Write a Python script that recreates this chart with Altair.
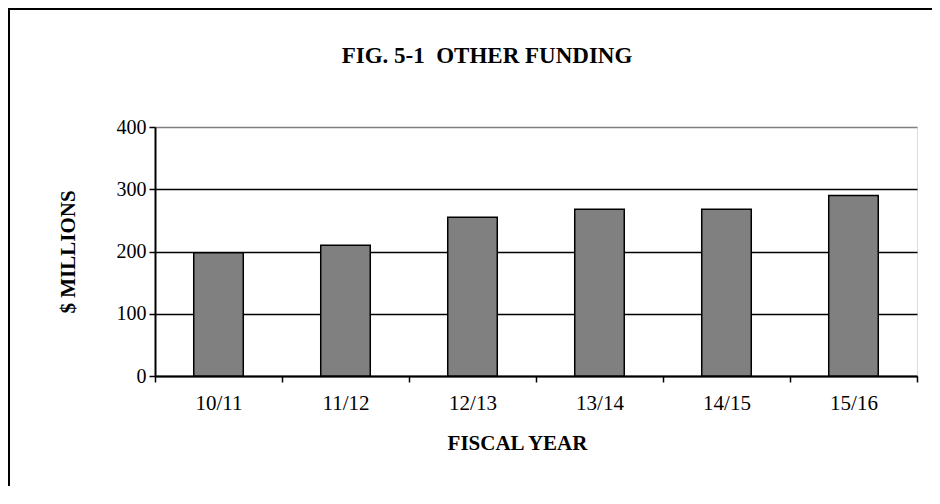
import altair as alt
import pandas as pd

years = ["10/11", "11/12", "12/13", "13/14", "14/15", "15/16"]
values = [198, 210, 255, 268, 268, 290]
y_ticks = [0, 100, 200, 300, 400]

df = pd.DataFrame({"year": years, "value": values})

FONT = "Liberation Serif"

frame = alt.Chart(pd.DataFrame({"a": [0]})).mark_rect(
    fill=None, stroke="black", strokeWidth=2, clip=False
).encode(
    x=alt.value(-146), y=alt.value(-118), x2=alt.value(2000), y2=alt.value(2000)
)

bars = alt.Chart(df).mark_bar(
    color="#808080", stroke="black", strokeWidth=1.5, width={"band": 0.39}
).encode(
    x=alt.X("year:N", sort=years,
            scale=alt.Scale(paddingInner=0, paddingOuter=0),
            axis=alt.Axis(title="FISCAL YEAR", labelAngle=0, tickBand="extent",
                          labelFont=FONT, labelFontSize=21, labelColor="black",
                          labelPadding=10,
                          titleFont=FONT, titleFontSize=21, titleFontWeight="bold",
                          titleColor="black", titlePadding=19, titleX=362,
                          domainColor="black", domainWidth=2,
                          tickColor="black", tickWidth=1.5, tickSize=6)),
    y=alt.Y("value:Q", scale=alt.Scale(domain=[0, 400], nice=False),
            axis=alt.Axis(title="$ MILLIONS", values=y_ticks,
                          labelFont=FONT, labelFontSize=20, labelColor="black",
                          labelPadding=3,
                          titleFont=FONT, titleFontSize=21, titleFontWeight="bold",
                          titleColor="black", titlePadding=38,
                          domainColor="black", domainWidth=2,
                          tickColor="black", tickWidth=1.5, tickSize=6,
                          grid=True,
                          gridColor=alt.condition("datum.value == 400",
                                                  alt.value("#808080"),
                                                  alt.value("black")),
                          gridWidth=1.5, gridOpacity=1))
)

chart = alt.layer(frame, bars).properties(
    width=762, height=249,
    title=alt.TitleParams("FIG. 5-1\u00a0 OTHER FUNDING", font=FONT, fontSize=23,
                          fontWeight="bold", color="black", anchor="middle",
                          frame="group", baseline="alphabetic",
                          dx=-49, offset=-78),
    autosize=alt.AutoSizeParams(type="none"),
    padding={"left": 147, "top": 119, "right": 15, "bottom": 110},
).configure_view(stroke="#808080", strokeWidth=2).configure(background="white")

chart.save("out.html", embed_options={"renderer": "svg", "actions": False})
